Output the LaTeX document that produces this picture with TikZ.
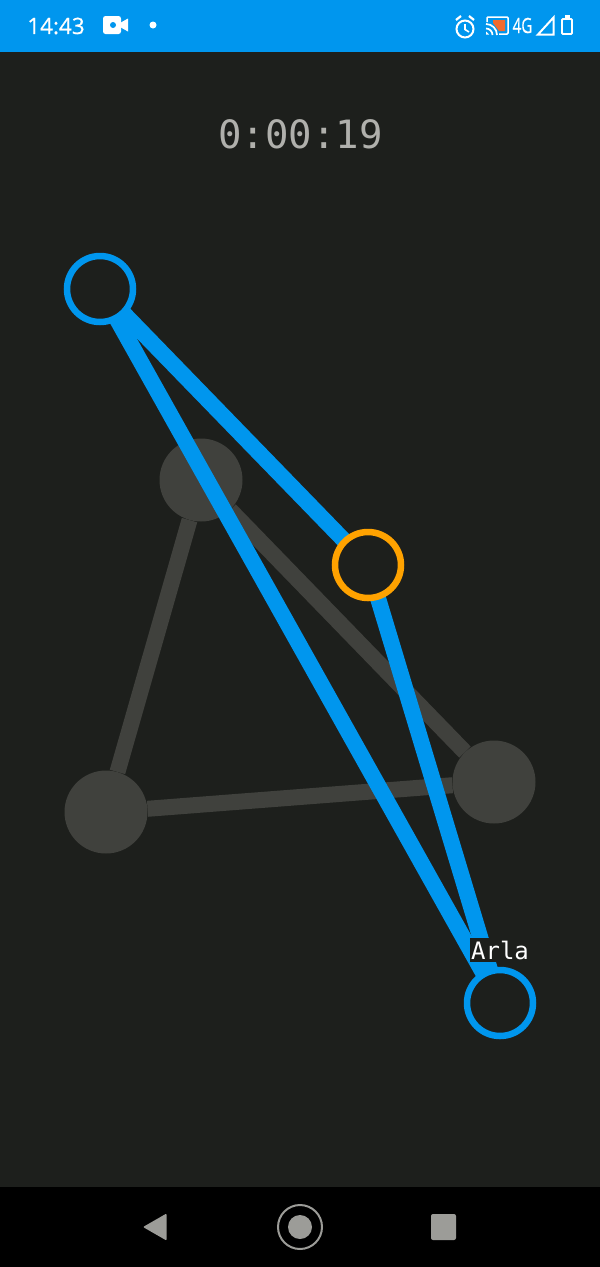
\documentclass[tikz,border=0pt]{standalone}
\usepackage{fontspec}
\setmainfont{Open Sans}
\newfontfamily\monof{DejaVu Sans Mono}
\newfontfamily\barfont[FakeBold=0.6]{Open Sans}
\definecolor{barblue}{HTML}{0096EE}
\definecolor{bgdark}{HTML}{1D1F1C}
\definecolor{ghost}{HTML}{40413D}
\definecolor{timer}{HTML}{B0B0AC}
\definecolor{navgrey}{HTML}{9C9C98}
\definecolor{amber}{HTML}{FFA200}
\definecolor{castorange}{HTML}{F26A2E}
\tikzset{
  ghostnode/.style={circle,fill=ghost,minimum size=83pt,inner sep=0pt},
  ghostedge/.style={draw=ghost,line width=16pt},
  playernode/.style={circle,draw=#1,fill=bgdark,line width=6.5pt,minimum size=66pt,inner sep=0pt},
  blueedge/.style={draw=barblue,line width=16pt},
  icon/.style={white},
}
\begin{document}
\begin{tikzpicture}[x=1pt,y=-1pt]
\useasboundingbox (0,0) rectangle (600,1267);
\fill[bgdark] (0,0) rectangle (600,1267);
\fill[barblue] (0,0) rectangle (600,52);
\fill[black] (0,1187) rectangle (600,1267);
% status bar
\node[white,font=\fontsize{22.5}{24}\selectfont\barfont] (clock) at (56,26) {14:43};
\fill[icon,rounded corners=2.5pt] (103,16) rectangle (121,34);
\fill[icon] (120,23) -- (128,18.5) -- (128,31.5) -- (120,27) -- cycle;
\fill[barblue] (113,25) circle (3);
\fill[icon] (153,25) circle (3.5);
% alarm
\draw[icon,line width=2pt] (465,29) circle (8.5);
\draw[icon,line width=1.6pt] (465,24) -- (465,29.5) -- (469,32);
\draw[icon,line width=2.2pt] (456,20) -- (461,16);
\draw[icon,line width=2.2pt] (474,20) -- (469,16);
% cast
\draw[icon,line width=1.5pt,rounded corners=1pt] (487,22) -- (487,17) -- (508,17) -- (508,34) -- (499,34);
\fill[castorange] (493,20) -- (505,20) -- (505,31) -- (499,31) -- (493,23) -- cycle;
\draw[icon,line width=1.7pt] (486,24) arc (-90:0:11);
\draw[icon,line width=1.7pt] (486,28.5) arc (-90:0:6.5);
\fill[icon] (486,31.5) -- (489,34.5) -- (486,34.5) -- cycle;
\node[white,font=\fontsize{21}{22}\selectfont\barfont,xscale=.72] (net) at (522.5,25.5) {4G};
\draw[icon,line width=2pt,line join=miter] (538,34.5) -- (553.5,17.5) -- (553.5,34.5) -- cycle;
\draw[icon,line width=1.8pt,rounded corners=1pt] (562,19) rectangle (572,34);
\fill[icon] (564.5,15) rectangle (569.5,19);
% timer
\node[timer,font=\fontsize{39}{42}\selectfont\monof] (time) at (300.5,134) {0:00:19};
% ghost graph
\node[ghostnode] (g1) at (201,480) {};
\node[ghostnode] (g2) at (494,782) {};
\node[ghostnode] (g3) at (106,812) {};
\draw[ghostedge] (g1) -- (g2);
\draw[ghostedge] (g1) -- (g3);
\draw[ghostedge] (g3) -- (g2);
% player graph
\coordinate (ca) at (100,289);
\coordinate (cb) at (368,565);
\coordinate (cc) at (500,1003);
\draw[blueedge] (ca) -- (cb);
\draw[blueedge] (cb) -- (cc);
\draw[blueedge] (ca) -- (cc);
\node[playernode=barblue] (pa) at (ca) {};
\node[playernode=amber] (pb) at (cb) {};
\node[playernode=barblue] (pc) at (cc) {};
\node[white,fill=bgdark,inner sep=0pt,minimum width=60pt,minimum height=24pt,font=\fontsize{24}{26}\selectfont\monof] (lab) at (500,950) {Arla};
% nav bar
\fill[navgrey,rounded corners=1pt] (143,1227) -- (166.5,1213.5) -- (166.5,1240.5) -- cycle;
\draw[navgrey,line width=2pt] (300,1227) circle (22);
\fill[navgrey] (300,1227) circle (12);
\fill[navgrey,rounded corners=2pt] (431,1214) rectangle (456,1240);
\end{tikzpicture}
\end{document}
